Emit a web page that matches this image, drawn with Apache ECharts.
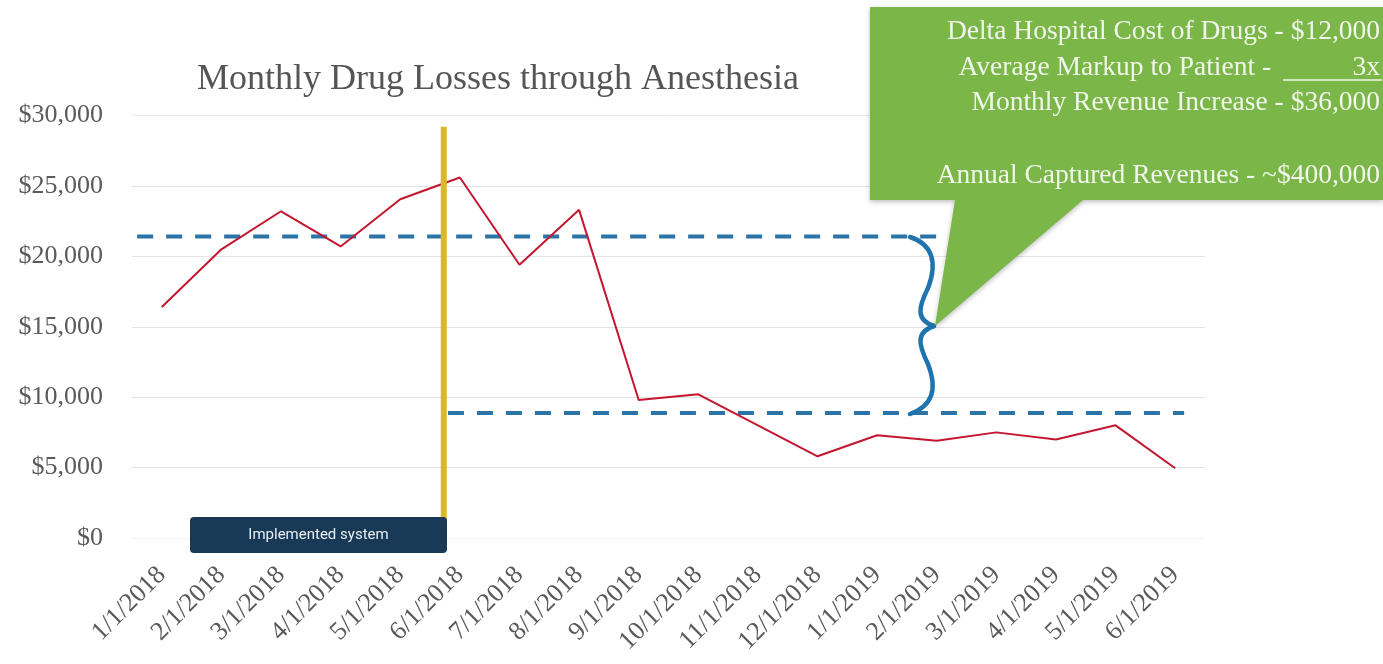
<!DOCTYPE html>
<html>
<head>
<meta charset="utf-8">
<script src="https://cdn.jsdelivr.net/npm/echarts@6/dist/echarts.min.js"></script>
<style>
  html, body { margin: 0; padding: 0; background: #ffffff; }
  #chart { width: 1383px; height: 664px; }
</style>
</head>
<body>
<div id="chart"></div>
<script>
const months = [
  "1/1/2018", "2/1/2018", "3/1/2018", "4/1/2018", "5/1/2018", "6/1/2018",
  "7/1/2018", "8/1/2018", "9/1/2018", "10/1/2018", "11/1/2018", "12/1/2018",
  "1/1/2019", "2/1/2019", "3/1/2019", "4/1/2019", "5/1/2019", "6/1/2019",
];
const losses = [
  16400, 20500, 23200, 20700, 24050, 25600,
  19400, 23300, 9800, 10200, 8000, 5800,
  7300, 6900, 7500, 7000, 8000, 4950,
];
// average level before / after the system went in
const levelBefore = 21400;
const levelAfter = 8870;
// spans of the dashed levels, in month-index units
const spanBefore = [-0.9, 13.05];
const spanAfter = [4.8, 17.15];
// go-live marker
const goLiveIndex = 4.73;
const goLiveRange = [0, 29200];

const calloutLines = [
  "Delta Hospital Cost of Drugs - $12,000",
  "Average Markup to Patient - ",
  "Monthly Revenue Increase - $36,000",
  "Annual Captured Revenues - ~$400,000",
];

const serif = "Liberation Serif";
const chart = echarts.init(document.getElementById("chart"));

const dashStyle = { color: "#2c74a8", width: 4, type: [16, 13] };

// curly brace between the two levels, drawn as four cubic pieces
const braceCurves = [
  [910, 237, 932, 244, 938, 262, 928, 288],
  [928, 288, 918, 308, 916, 320, 934, 326],
  [934, 326, 916, 332, 918, 344, 928, 364],
  [928, 364, 938, 390, 932, 406, 910, 414],
];

const option = {
  backgroundColor: "#ffffff",
  animation: false,
  textStyle: { fontFamily: serif },
  title: {
    text: "Monthly Drug Losses through Anesthesia",
    left: 493,
    top: 57,
    textAlign: "center",
    textStyle: { fontFamily: serif, fontSize: 36, fontWeight: "normal", color: "#555555" },
  },
  grid: { left: 132, right: 178, top: 115.5, bottom: 126 },
  xAxis: [
    {
      type: "category",
      data: months,
      boundaryGap: true,
      axisLine: { show: false },
      axisTick: { show: false },
      axisLabel: {
        rotate: 45,
        margin: 33,
        interval: 0,
        fontFamily: serif,
        fontSize: 26,
        color: "#5a5a5a",
      },
      splitLine: { show: false },
    },
    { type: "value", min: -0.5, max: 17.5, show: false },
  ],
  yAxis: {
    type: "value",
    min: 0,
    max: 30000,
    interval: 5000,
    axisLine: { show: false },
    axisTick: { show: false },
    axisLabel: {
      margin: 29,
      fontFamily: serif,
      fontSize: 26,
      color: "#5a5a5a",
      formatter: (v) => "$" + v.toLocaleString("en-US"),
    },
    splitLine: {
      lineStyle: {
        color: ["#f4f4f4", "#e3e3e3", "#e3e3e3", "#e3e3e3", "#e3e3e3", "#e3e3e3", "#e8e8e8"],
        width: 1,
      },
    },
  },
  series: [
    {
      type: "line",
      xAxisIndex: 1,
      clip: false,
      symbol: "none",
      silent: true,
      lineStyle: dashStyle,
      data: [[spanBefore[0], levelBefore], [spanBefore[1], levelBefore]],
      z: 3,
    },
    {
      type: "line",
      xAxisIndex: 1,
      clip: false,
      symbol: "none",
      silent: true,
      lineStyle: dashStyle,
      data: [[spanAfter[0], levelAfter], [spanAfter[1], levelAfter]],
      z: 3,
    },
    {
      type: "line",
      data: losses,
      symbol: "none",
      lineStyle: { color: "#c4162f", width: 2 },
      z: 4,
    },
    {
      type: "line",
      xAxisIndex: 1,
      clip: false,
      symbol: "none",
      silent: true,
      lineStyle: { color: "#d9b82a", width: 6 },
      data: [[goLiveIndex, goLiveRange[0]], [goLiveIndex, goLiveRange[1]]],
      z: 5,
    },
  ],
  graphic: [
    {
      type: "rect",
      z: 100,
      shape: { x: 190, y: 517, width: 257, height: 36, r: 4 },
      style: { fill: "#183a57" },
    },
    {
      type: "text",
      z: 101,
      x: 318.5,
      y: 535,
      style: {
        text: "Implemented system",
        fill: "#e8eef3",
        font: "15px Roboto",
        align: "center",
        verticalAlign: "middle",
      },
    },
    {
      type: "polygon",
      z: 100,
      shape: {
        points: [[870, 7], [1383, 7], [1383, 200], [1083, 200], [935, 326], [955, 200], [870, 200]],
      },
      style: { fill: "#7ab648", shadowBlur: 5, shadowColor: "rgba(0,0,0,0.25)", shadowOffsetY: 2 },
    },
    ...braceCurves.map((c) => ({
      type: "bezierCurve",
      z: 99,
      shape: { x1: c[0], y1: c[1], cpx1: c[2], cpy1: c[3], cpx2: c[4], cpy2: c[5], x2: c[6], y2: c[7] },
      style: { fill: null, stroke: "#1f74ae", lineWidth: 4.5, lineCap: "round" },
    })),
    ...[32, 68, 103, 176].map((y, i) => ({
      type: "text",
      z: 101,
      x: i === 1 ? 1278 : 1380,
      y: y,
      style: {
        text: calloutLines[i],
        fill: "#f1f6ea",
        font: "27.5px " + serif,
        align: "right",
        verticalAlign: "middle",
      },
    })),
    {
      type: "text",
      z: 101,
      x: 1380,
      y: 68,
      style: { text: "3x", fill: "#f1f6ea", font: "27.5px " + serif, align: "right", verticalAlign: "middle" },
    },
    {
      type: "line",
      z: 101,
      shape: { x1: 1283, y1: 80, x2: 1382, y2: 80 },
      style: { stroke: "#f1f6ea", lineWidth: 1.5 },
    },
  ],
};

chart.setOption(option);
window.addEventListener("resize", () => chart.resize());
</script>
</body>
</html>
